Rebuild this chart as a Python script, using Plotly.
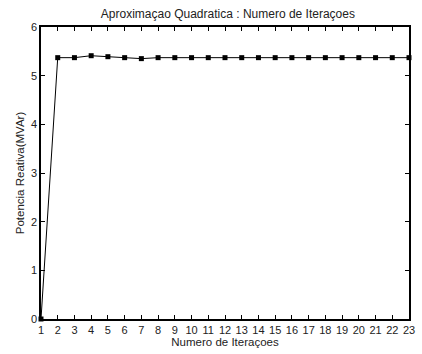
import plotly.graph_objects as go

iteracoes = list(range(1, 24))
potencia = [0.0, 5.37, 5.37, 5.41, 5.39, 5.37, 5.35, 5.37, 5.37, 5.37, 5.37, 5.37,
            5.37, 5.37, 5.37, 5.37, 5.37, 5.37, 5.37, 5.37, 5.37, 5.37, 5.37]
x_ticks = list(range(1, 24))
y_ticks = [0, 1, 2, 3, 4, 5, 6]

FONT = "Liberation Sans, Arial"

fig = go.Figure()
fig.add_trace(go.Scatter(
    x=iteracoes, y=potencia, mode="lines+markers",
    line=dict(color="black", width=1),
    marker=dict(symbol="square", size=5, color="black"),
    showlegend=False, cliponaxis=False,
))

axis_common = dict(
    showline=True, linecolor="black", linewidth=1.5, mirror="ticks",
    ticks="inside", ticklen=4, tickcolor="black", tickwidth=1,
    showgrid=False, zeroline=False,
    tickfont=dict(family=FONT, size=11, color="#222"),
)

fig.update_xaxes(range=[1, 23], tickvals=x_ticks, ticktext=[str(t) for t in x_ticks],
                 title=dict(text="Numero de Iteraçoes", standoff=3,
                            font=dict(family=FONT, size=11.5, color="#222")),
                 **axis_common)
fig.update_yaxes(range=[0, 6], tickvals=y_ticks, ticktext=[str(t) for t in y_ticks],
                 title=dict(text="Potencia Reativa(MVAr)", standoff=4,
                            font=dict(family=FONT, size=11.5, color="#222")),
                 **axis_common)

fig.update_layout(
    width=422, height=354,
    margin=dict(l=41, r=7, t=27, b=33),
    paper_bgcolor="white", plot_bgcolor="white",
    title=dict(text="Aproximaçao Quadratica : Numero de Iteraçoes",
               x=0.54, xanchor="center", y=0.96, yanchor="middle",
               font=dict(family=FONT, size=12, color="#222")),
)

fig.write_html("out.html")
